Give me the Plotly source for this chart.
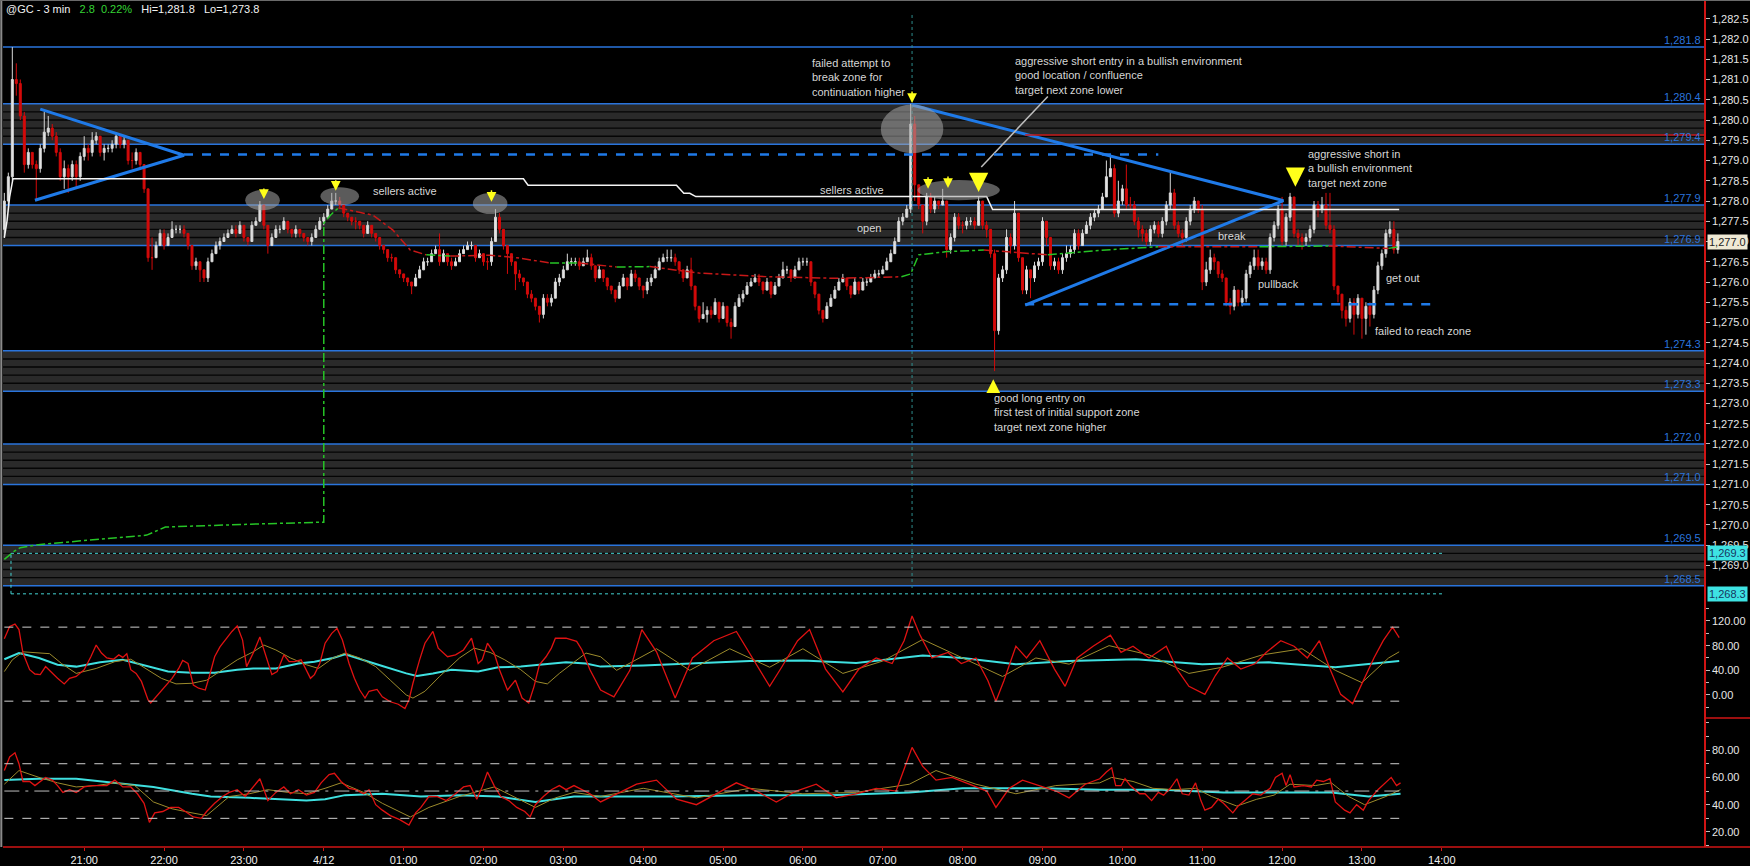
import pandas as pd
import plotly.graph_objects as go

START = pd.Timestamp("2017-04-11 20:00")

# ---- @GC 3 min bars (open = previous close) ----
first_open = 1277.3
close = [
    1278.0, 1278.6, 1281.0, 1280.9, 1280.1, 1278.9, 1279.2, 1278.9, 1278.8, 1279.3,
    1279.7, 1279.8, 1279.6, 1279.2, 1278.6, 1278.8, 1278.6, 1278.9, 1278.6, 1279.1,
    1279.3, 1279.2, 1279.5, 1279.6, 1279.2, 1279.3, 1279.3, 1279.4, 1279.6, 1279.4,
    1279.5, 1279.0, 1279.0, 1279.2, 1278.9, 1278.3, 1276.6, 1276.6, 1276.9, 1277.2,
    1276.9, 1277.1, 1277.3, 1277.3, 1277.3, 1277.2, 1276.9, 1276.4, 1276.5, 1276.3,
    1276.1, 1276.5, 1276.7, 1276.9, 1277.0, 1277.1, 1277.2, 1277.3, 1277.2, 1277.4,
    1277.1, 1277.0, 1277.4, 1277.5, 1277.9, 1277.4, 1276.9, 1277.1, 1277.3, 1277.3,
    1277.5, 1277.3, 1277.2, 1277.3, 1277.2, 1277.1, 1277.0, 1277.1, 1277.3, 1277.5,
    1277.6, 1277.8, 1278.0, 1278.0, 1277.9, 1277.7, 1277.6, 1277.5, 1277.5, 1277.4,
    1277.2, 1277.4, 1277.2, 1277.1, 1276.9, 1276.8, 1276.6, 1276.6, 1276.3, 1276.2,
    1276.1, 1276.0, 1275.9, 1276.1, 1276.3, 1276.5, 1276.5, 1276.7, 1276.8, 1276.5,
    1276.7, 1276.5, 1276.4, 1276.5, 1276.7, 1276.8, 1276.9, 1276.9, 1276.6, 1276.7,
    1276.5, 1276.5, 1277.0, 1277.6, 1277.3, 1276.9, 1276.7, 1276.5, 1276.2, 1276.1,
    1276.0, 1275.7, 1275.6, 1275.4, 1275.2, 1275.6, 1275.5, 1275.6, 1276.0, 1276.1,
    1276.3, 1276.5, 1276.5, 1276.5, 1276.4, 1276.5, 1276.6, 1276.4, 1276.1, 1276.3,
    1276.1, 1275.9, 1275.8, 1275.6, 1275.9, 1276.1, 1275.9, 1276.2, 1276.1, 1275.9,
    1275.8, 1276.0, 1276.1, 1276.3, 1276.5, 1276.6, 1276.6, 1276.6, 1276.5, 1276.3,
    1276.1, 1276.3, 1275.9, 1275.4, 1275.1, 1275.2, 1275.3, 1275.2, 1275.5, 1275.1,
    1275.4, 1275.0, 1274.9, 1275.4, 1275.6, 1275.7, 1275.9, 1276.0, 1276.1, 1276.0,
    1275.8, 1276.0, 1275.7, 1275.9, 1276.1, 1276.3, 1276.3, 1276.1, 1276.3, 1276.5,
    1276.5, 1276.5, 1276.0, 1275.7, 1275.3, 1275.1, 1275.4, 1275.6, 1275.8, 1276.0,
    1276.1, 1275.9, 1275.7, 1276.0, 1275.8, 1276.0, 1276.0, 1276.1, 1276.2, 1276.2,
    1276.3, 1276.5, 1276.7, 1277.0, 1277.5, 1277.6, 1277.8, 1279.9, 1278.4, 1277.9,
    1277.5, 1278.1, 1277.8, 1278.0, 1277.9, 1278.0, 1276.8, 1277.1, 1277.6, 1277.4,
    1277.4, 1277.5, 1277.5, 1277.4, 1278.0, 1277.4, 1277.3, 1276.7, 1274.8, 1276.1,
    1276.3, 1277.1, 1276.9, 1277.7, 1276.6, 1275.8, 1276.3, 1276.1, 1276.4, 1276.5,
    1277.5, 1277.1, 1276.4, 1276.5, 1276.3, 1276.6, 1276.7, 1276.8, 1277.2, 1276.9,
    1277.2, 1277.4, 1277.6, 1277.7, 1277.8, 1278.1, 1278.6, 1278.8, 1277.7, 1278.0,
    1278.3, 1277.9, 1277.9, 1277.5, 1277.3, 1277.2, 1277.0, 1277.3, 1277.4, 1277.2,
    1277.5, 1277.9, 1278.2, 1277.4, 1277.2, 1277.1, 1277.5, 1277.8, 1278.0, 1277.8,
    1276.0, 1276.3, 1276.6, 1276.5, 1276.2, 1276.1, 1275.5, 1275.4, 1275.8, 1275.5,
    1275.6, 1276.2, 1276.4, 1276.6, 1276.4, 1276.5, 1276.3, 1277.1, 1277.4, 1277.8,
    1277.0, 1277.6, 1278.1, 1277.2, 1277.1, 1277.0, 1277.1, 1277.3, 1277.9, 1277.8,
    1277.9, 1277.4, 1277.3, 1275.9, 1275.7, 1275.3, 1275.1, 1275.5, 1275.2, 1275.6,
    1275.1, 1275.4, 1275.2, 1275.8, 1276.4, 1276.7, 1277.2, 1277.3, 1276.8, 1277.0,
]
high = [
    1278.2, 1278.7, 1281.8, 1281.4, 1281.0, 1280.2, 1279.3, 1279.2, 1279.0, 1279.4,
    1280.2, 1280.1, 1279.9, 1279.7, 1279.3, 1279.0, 1278.9, 1279.0, 1279.0, 1279.2,
    1279.6, 1279.4, 1279.7, 1279.7, 1279.6, 1279.4, 1279.4, 1279.5, 1279.7, 1279.6,
    1279.6, 1279.5, 1279.2, 1279.3, 1279.2, 1278.9, 1278.3, 1277.1, 1277.0, 1277.3,
    1277.3, 1277.2, 1277.5, 1277.4, 1277.4, 1277.4, 1277.2, 1276.9, 1276.6, 1276.5,
    1276.3, 1276.6, 1276.8, 1277.0, 1277.1, 1277.2, 1277.3, 1277.4, 1277.4, 1277.5,
    1277.4, 1277.1, 1277.5, 1277.6, 1278.0, 1277.9, 1277.4, 1277.2, 1277.4, 1277.4,
    1277.6, 1277.5, 1277.3, 1277.4, 1277.3, 1277.2, 1277.1, 1277.2, 1277.4, 1277.6,
    1277.7, 1277.9, 1278.2, 1278.2, 1278.1, 1277.9, 1277.7, 1277.6, 1277.6, 1277.5,
    1277.4, 1277.5, 1277.4, 1277.2, 1277.1, 1276.9, 1276.8, 1276.7, 1276.6, 1276.3,
    1276.2, 1276.1, 1276.0, 1276.2, 1276.4, 1276.6, 1276.6, 1276.8, 1276.9, 1277.2,
    1276.8, 1276.7, 1276.6, 1276.6, 1276.8, 1276.9, 1277.0, 1277.0, 1276.9, 1276.8,
    1276.7, 1276.6, 1277.1, 1277.8, 1277.7, 1277.3, 1276.9, 1276.7, 1276.5, 1276.3,
    1276.1, 1276.0, 1275.8, 1275.6, 1275.4, 1275.7, 1275.7, 1275.7, 1276.1, 1276.2,
    1276.4, 1276.7, 1276.6, 1276.6, 1276.6, 1276.6, 1276.8, 1276.7, 1276.4, 1276.4,
    1276.3, 1276.1, 1275.9, 1275.8, 1276.0, 1276.2, 1276.1, 1276.3, 1276.3, 1276.1,
    1275.9, 1276.1, 1276.2, 1276.4, 1276.6, 1276.7, 1276.8, 1276.8, 1276.7, 1276.5,
    1276.3, 1276.4, 1276.6, 1275.9, 1275.4, 1275.5, 1275.4, 1275.4, 1275.6, 1275.5,
    1275.5, 1275.4, 1275.1, 1275.5, 1275.7, 1275.8, 1276.0, 1276.1, 1276.2, 1276.2,
    1276.0, 1276.1, 1276.0, 1276.0, 1276.2, 1276.5, 1276.4, 1276.3, 1276.4, 1276.6,
    1276.6, 1276.6, 1276.5, 1276.0, 1275.7, 1275.3, 1275.5, 1275.7, 1275.9, 1276.1,
    1276.2, 1276.1, 1275.9, 1276.1, 1276.0, 1276.1, 1276.1, 1276.2, 1276.3, 1276.3,
    1276.4, 1276.6, 1276.8, 1277.1, 1277.6, 1277.7, 1277.9, 1280.4, 1280.1, 1278.4,
    1277.9, 1278.2, 1278.2, 1278.1, 1278.0, 1278.3, 1278.0, 1277.2, 1277.7, 1277.7,
    1277.5, 1277.6, 1277.6, 1277.6, 1278.1, 1278.0, 1277.5, 1277.3, 1276.8, 1276.2,
    1276.4, 1277.3, 1277.2, 1278.0, 1277.7, 1276.6, 1276.4, 1276.3, 1276.5, 1276.6,
    1277.6, 1277.5, 1277.1, 1276.6, 1276.6, 1276.7, 1276.9, 1276.9, 1277.3, 1277.3,
    1277.3, 1277.5, 1277.7, 1277.8, 1277.9, 1278.2, 1279.0, 1279.1, 1278.9, 1278.5,
    1278.4, 1278.9, 1278.1, 1278.0, 1277.6, 1277.4, 1277.3, 1277.4, 1277.5, 1277.5,
    1277.6, 1278.0, 1278.7, 1278.3, 1277.5, 1277.3, 1277.6, 1277.9, 1278.1, 1278.0,
    1277.9, 1276.5, 1276.8, 1276.7, 1276.5, 1276.3, 1276.1, 1275.6, 1275.9, 1275.8,
    1275.8, 1276.3, 1276.5, 1276.8, 1276.8, 1276.6, 1276.6, 1277.2, 1277.5, 1277.9,
    1278.1, 1277.7, 1278.2, 1278.1, 1277.3, 1277.2, 1277.2, 1277.4, 1278.0, 1278.0,
    1278.1, 1278.2, 1278.2, 1277.4, 1275.9, 1275.7, 1275.4, 1275.6, 1275.6, 1275.7,
    1275.6, 1275.5, 1275.5, 1275.9, 1276.5, 1276.8, 1277.3, 1277.5, 1277.5, 1277.2,
]
low = [
    1277.1, 1277.9, 1278.5, 1280.6, 1280.0, 1278.7, 1278.8, 1278.8, 1278.0, 1278.7,
    1279.2, 1279.6, 1279.5, 1279.1, 1278.5, 1278.3, 1278.2, 1278.5, 1278.3, 1278.5,
    1279.0, 1279.0, 1279.1, 1279.4, 1279.1, 1279.0, 1279.2, 1279.2, 1279.3, 1279.3,
    1279.3, 1278.9, 1278.8, 1278.9, 1278.8, 1278.2, 1276.5, 1276.3, 1276.6, 1276.9,
    1276.8, 1276.9, 1277.1, 1277.2, 1277.2, 1277.1, 1276.8, 1276.3, 1276.3, 1276.0,
    1276.0, 1276.0, 1276.5, 1276.7, 1276.8, 1277.0, 1277.1, 1277.2, 1277.1, 1277.2,
    1277.0, 1276.9, 1277.0, 1277.4, 1277.5, 1277.3, 1276.7, 1276.9, 1277.1, 1277.2,
    1277.3, 1277.2, 1277.1, 1277.1, 1277.1, 1277.0, 1276.9, 1276.9, 1277.1, 1277.3,
    1277.4, 1277.6, 1277.8, 1277.9, 1277.8, 1277.6, 1277.5, 1277.4, 1277.3, 1277.3,
    1277.1, 1277.2, 1277.1, 1277.0, 1276.8, 1276.7, 1276.5, 1276.5, 1276.2, 1276.1,
    1276.0, 1275.9, 1275.7, 1275.9, 1276.1, 1276.3, 1276.4, 1276.5, 1276.7, 1276.4,
    1276.5, 1276.4, 1276.3, 1276.4, 1276.5, 1276.7, 1276.8, 1276.8, 1276.5, 1276.6,
    1276.4, 1276.3, 1276.4, 1277.0, 1277.2, 1276.8, 1276.2, 1276.4, 1275.8, 1276.0,
    1275.9, 1275.6, 1275.5, 1275.3, 1275.0, 1275.1, 1275.4, 1275.4, 1275.6, 1275.9,
    1276.1, 1276.3, 1276.4, 1276.4, 1276.3, 1276.4, 1276.5, 1276.3, 1276.0, 1276.1,
    1276.0, 1275.8, 1275.7, 1275.5, 1275.6, 1275.9, 1275.8, 1275.9, 1276.0, 1275.8,
    1275.6, 1275.7, 1275.9, 1276.1, 1276.3, 1276.5, 1276.5, 1276.5, 1276.4, 1276.2,
    1276.0, 1276.1, 1275.8, 1275.3, 1275.0, 1275.1, 1275.0, 1275.1, 1275.2, 1275.0,
    1275.1, 1274.9, 1274.6, 1274.9, 1275.4, 1275.5, 1275.7, 1275.9, 1276.0, 1275.9,
    1275.7, 1275.8, 1275.6, 1275.7, 1275.9, 1276.1, 1276.2, 1276.0, 1276.1, 1276.3,
    1276.4, 1276.4, 1275.9, 1275.6, 1275.2, 1275.0, 1275.1, 1275.4, 1275.6, 1275.8,
    1276.0, 1275.8, 1275.6, 1275.7, 1275.7, 1275.8, 1275.9, 1276.0, 1276.1, 1276.1,
    1276.2, 1276.3, 1276.5, 1276.7, 1277.0, 1277.4, 1277.6, 1277.7, 1278.0, 1277.8,
    1277.2, 1277.4, 1277.7, 1277.7, 1277.8, 1277.9, 1276.6, 1276.7, 1277.0, 1277.3,
    1277.2, 1277.3, 1277.4, 1277.3, 1277.4, 1277.3, 1277.1, 1276.6, 1273.8, 1274.7,
    1276.0, 1276.2, 1276.7, 1276.8, 1276.5, 1275.7, 1275.7, 1275.6, 1276.0, 1276.3,
    1276.4, 1276.9, 1276.3, 1276.3, 1276.2, 1276.2, 1276.5, 1276.6, 1276.7, 1276.8,
    1276.9, 1277.2, 1277.3, 1277.5, 1277.6, 1277.8, 1278.1, 1278.6, 1277.6, 1277.6,
    1277.9, 1277.8, 1277.8, 1277.4, 1277.1, 1277.0, 1276.9, 1276.9, 1277.2, 1277.1,
    1277.1, 1277.4, 1277.8, 1277.3, 1277.1, 1276.9, 1277.0, 1277.4, 1277.7, 1277.7,
    1275.8, 1275.9, 1276.2, 1276.3, 1276.1, 1276.0, 1275.4, 1275.2, 1275.3, 1275.4,
    1275.4, 1275.5, 1276.1, 1276.3, 1276.3, 1276.3, 1276.2, 1276.2, 1277.0, 1277.3,
    1276.9, 1276.9, 1277.5, 1277.1, 1276.9, 1276.8, 1276.9, 1277.0, 1277.2, 1277.6,
    1277.7, 1277.3, 1277.2, 1275.8, 1275.5, 1275.1, 1274.9, 1275.0, 1274.7, 1275.1,
    1274.6, 1274.7, 1274.9, 1275.1, 1275.7, 1276.3, 1276.6, 1277.1, 1276.7, 1276.7,
]

# ---- horizontal levels ----
zone_top = [1280.4, 1277.9, 1274.3, 1272.0, 1269.5]
zone_bottom = [1279.4, 1276.9, 1273.3, 1271.0, 1268.5]
single_level = 1281.8
red_level = 1279.63
cyan_levels = [1269.3, 1268.3]

# blue dashed levels: (from minute, to minute, price)
dashed_levels = [(135, 867, 1279.15), (767, 1076, 1275.45)]
# triangles: (start minute, start price) -> apex
triangles = [
    [(27, 1280.27), (135, 1279.13), (23, 1278.02)],
    [(682, 1280.37), (961, 1278.01), (767, 1275.43)],
]

# "sellers active" step line (minutes after 20:00)
sellers_min = [0, 2, 4, 6.5, 390, 393.5, 505, 510.5, 515, 519.5, 738, 742.5, 1048]
sellers_val = [1277.09, 1277.5, 1278.1, 1278.55, 1278.55, 1278.39, 1278.39,
               1278.19, 1278.19, 1278.11, 1278.11, 1277.79, 1277.79]

# vwap-style line, coloured per segment (1 = rising/green)
vwap_min = [0, 7, 12, 27, 107, 121, 185, 237, 240, 240, 245, 251, 277, 292, 305,
            317, 335, 365, 385, 410, 432, 460, 485, 522, 574, 626, 674, 681, 687,
            708, 736, 784, 822, 867, 943, 995, 1040, 1048]
vwap_val = [1269.15, 1269.34, 1269.44, 1269.52, 1269.75, 1269.95, 1270.02, 1270.07,
            1270.07, 1277.45, 1277.65, 1277.83, 1277.65, 1277.28, 1276.79, 1276.67,
            1276.64, 1276.66, 1276.60, 1276.47, 1276.47, 1276.37, 1276.38, 1276.22,
            1276.13, 1276.09, 1276.13, 1276.20, 1276.67, 1276.75, 1276.79, 1276.67,
            1276.78, 1276.87, 1276.87, 1276.89, 1276.83, 1276.87]
vwap_rising = [1, 1, 1, 1, 1, 1, 1, 1, 1, 1, 1, 0, 0, 0, 0, 1, 0, 0, 0, 1, 0, 1, 0,
               0, 0, 0, 1, 1, 1, 1, 0, 1, 1, 0, 1, 0, 1]

# ---- indicator 1 ----
ind1_fast_min = [0, 4, 8, 11, 14, 19, 23, 27, 31, 36, 40, 45, 49, 54, 60, 65, 69, 73, 77,
                 82, 86, 89, 92, 95, 99, 103, 108, 110, 115, 121, 126, 131, 134, 138, 142,
                 146, 151, 154, 158, 162, 167, 171, 175, 179, 182, 187, 192, 197, 201, 205,
                 210, 214, 218, 223, 227, 230, 233, 237, 241, 246, 250, 254, 259, 263, 267,
                 271, 274, 280, 284, 290, 296, 301, 304, 307, 312, 316, 322, 326, 333, 339,
                 345, 351, 356, 359, 363, 368, 372, 378, 384, 389, 394, 398, 402, 407, 411,
                 414, 422, 430, 434, 440, 448,
                 458, 470, 479, 490, 504, 517, 533, 550, 562, 575, 584, 596, 605, 617, 630,
                 642, 655, 667, 676, 682, 688, 697, 709, 719, 730, 739, 745, 751, 760, 768,
                 778, 789, 797, 806, 818, 831, 839, 848, 860, 873, 881, 890, 902, 910, 919,
                 929, 940, 948, 959, 969, 979, 988, 996, 1004, 1013, 1021, 1029, 1036, 1043,
                 1048]
ind1_fast = [91, 111, 115, 106, 68, 41, 34, 33, 46, 35, 27, 18, 27, 30, 41, 62, 81, 68, 60,
             58, 65, 61, 67, 41, 35, 22, -8, -13, 0, 14, 27, 43, 56, 51, 16,
             11, 8, 30, 62, 78, 92, 103, 112, 89, 46, 68, 94, 62, 33, 38,
             65, 54, 54, 57, 41, 27, 33, 51, 84, 100, 108, 89, 51, 27, 8,
             -5, 6, 9, -3, -11, -15, -22, -8, 19, 57, 84, 103, 76, 62, 65,
             73, 92, 51, 57, 84, 68, 41, 8, 24, -5, -13, 14, 49, 62, 76,
             92, 92, 87, 73, 41, 8,
             -3, 40, 106, 70, -5, 60, 88, 103, 60, 14, 45, 88, 106, 42, 5,
             42, 60, 51, 88, 128, 97, 60, 69, 51, 60, 23, -10, 23, 79, 60,
             88, 42, 14, 60, 79, 97, 69, 79, 60, 79, 42, 14, 1, 32, 60,
             42, 51, 69, 88, 79, 60, 88, 42, 1, -14, 23, 60, 88, 110,
             93]
ind1_mid_min = [0, 6, 14, 26, 34, 43, 54, 69, 83, 95, 106, 118, 129, 141, 152, 164, 175,
                187, 195, 204, 215, 227, 236, 247, 256, 267, 279, 290, 302, 307, 316, 327,
                342, 353, 365, 376, 388, 399, 408, 417, 428, 437, 448, 460, 490, 515, 545,
                575, 600, 630, 660, 690, 720, 750, 775, 800, 830, 860, 890, 915, 945, 975,
                1000, 1020, 1040, 1048]
ind1_mid = [38, 57, 70, 68, 67, 51, 35, 43, 54, 58, 43, 27, 18, 19, 24, 41, 57, 70, 81, 73,
            60, 49, 43, 60, 68, 60, 46, 24, 0, -5, 6, 30, 60, 76, 69, 57, 41, 22, 18, 35,
            54, 68, 62, 40, 75, 40, 75, 45, 75, 35, 55, 90, 60, 30, 60, 50, 80, 65, 35,
            45, 65, 75, 40, 20, 60, 70]
ind1_slow_min = [0, 11, 26, 40, 54, 72, 89, 106, 123, 141, 158, 175, 187, 204, 221, 233,
                 247, 256, 270, 284, 302, 310, 322, 336, 356, 371, 388, 405, 422, 437, 448,
                 480, 520, 560, 600, 640, 690, 720, 760, 800, 850, 900, 950, 1000, 1048]
ind1_slow = [58, 68, 60, 49, 46, 53, 57, 47, 38, 36, 36, 41, 43, 43, 51, 54, 60, 66, 57,
             47, 35, 31, 35, 41, 38, 45, 46, 50, 53, 51, 46, 48, 52, 55, 56, 52, 64, 60,
             50, 55, 58, 50, 53, 45, 55]
ind1_bands = [110, -10]

# ---- indicator 2 ----
ind2_fast_min = [0, 4, 8, 11, 14, 19, 23, 27, 31, 36, 40, 44, 49, 54, 60, 66, 72, 77, 83,
                 89, 95, 100, 105, 109, 113, 119, 125, 131, 136, 142, 148, 152, 158, 164,
                 169, 175, 181, 187, 192, 198, 204, 210, 215, 221, 227, 233, 238, 244, 248,
                 253, 259, 264, 270, 274, 279, 284, 290, 297, 304, 309, 313, 319, 325, 332,
                 339, 345, 350, 355, 359, 363, 368, 373, 379, 385, 391, 395, 399, 405, 411,
                 417, 422, 428, 434, 440, 448,
                 460, 475, 490, 505, 520, 535, 550, 565, 580, 595, 610, 625, 640, 655, 670,
                 682, 690, 700, 712, 725, 738, 745, 755, 765, 775, 790, 800, 812,
                 823, 828, 832, 835, 839, 842, 846, 853, 857, 862, 867, 871, 876, 881, 885,
                 890, 895, 899, 902, 907, 912, 916, 923, 927, 932, 938, 944, 951, 955, 960,
                 963, 966, 969, 976, 982, 986, 991, 996, 1000, 1007, 1011, 1016, 1021, 1025,
                 1032, 1038, 1042, 1046, 1049]
ind2_fast = [65, 75, 78, 70, 57, 57, 54, 57, 60, 58, 54, 49, 51, 49, 53, 54, 54, 54, 58,
             53, 53, 48, 41, 27, 34, 35, 38, 38, 35, 31, 30, 35, 41, 46,
             49, 51, 46, 53, 59, 43, 49, 53, 48, 51, 47, 49, 56, 62, 63,
             57, 52, 51, 48, 51, 40, 36, 32, 29, 25, 34, 38, 46, 46, 43,
             48, 53, 54, 44, 53, 64, 54, 46, 43, 38, 35, 31, 40, 46, 51,
             54, 51, 54, 51, 48, 42,
             48, 55, 58, 44, 40, 48, 56, 50, 42, 50, 55, 45, 48, 52, 50,
             82, 68, 58, 60, 55, 50, 38, 52, 58, 55, 50, 45, 55,
             59, 64, 67, 54, 54, 59, 54, 48, 48, 43, 49, 47, 52, 59, 48,
             47, 56, 43, 36, 38, 44, 41, 34, 39, 43, 48, 47, 52, 60, 63,
             54, 62, 53, 54, 53, 58, 57, 59, 42, 36, 34, 40, 36, 43,
             51, 56, 60, 54, 56]
ind2_mid_min = [0, 11, 26, 40, 54, 69, 83, 98, 112, 126, 141, 152, 169, 184, 198, 213, 227,
                241, 253, 270, 284, 305, 319, 342, 368, 385, 399, 414, 428, 448, 480, 520,
                560, 600, 640, 680, 700, 730, 760, 790, 823, 832, 848, 863, 879, 895, 907,
                926, 941, 954, 966, 985, 997, 1010, 1022, 1038, 1049]
ind2_mid = [55, 65, 60, 56, 53, 54, 56, 54, 42, 37, 34, 32, 46, 48, 51, 49, 48, 52, 56, 49,
            41, 31, 38, 46, 53, 45, 38, 45, 49, 46, 52, 45, 52, 48, 49, 55, 65, 55, 48, 54,
            56, 60, 57, 52, 51, 52, 46, 39, 44, 47, 55, 54, 56, 46, 40, 46, 51]
ind2_slow_min = [0, 26, 54, 83, 112, 141, 155, 184, 227, 241, 256, 284, 313, 342, 371, 399,
                 428, 448, 500, 560, 620, 680, 720, 780, 823, 870, 916, 963, 997, 1025, 1049]
ind2_slow = [58, 59, 59, 56, 53, 48, 46, 45, 43, 44, 47, 48, 46, 47, 46, 42, 46, 46, 46,
             47, 47, 49, 52, 52, 51, 51, 49, 49, 49, 46, 48]
ind2_bands = [70, 30]
ind2_mid_level = 50

# time axis labels
tick_min = [60, 120, 180, 240, 300, 360, 420, 480, 540, 600, 660, 720, 780, 840, 900,
            960, 1020, 1080]
tick_text = ["21:00", "22:00", "23:00", "4/12", "01:00", "02:00", "03:00", "04:00",
             "05:00", "06:00", "07:00", "08:00", "09:00", "10:00", "11:00", "12:00",
             "13:00", "14:00"]


def at(minutes):
    return START + pd.to_timedelta(minutes, unit="min")


FONT = "Liberation Sans, Arial, sans-serif"
BLUE = "#2a74dc"
RED = "#d01414"
GREEN = "#26c426"
TXT = "#d6d6d6"

bar_time = at([3 * i for i in range(len(close))])
opens = [first_open] + close[:-1]
high = [max(h, o, c) for h, o, c in zip(high, opens, close)]
low = [min(lo, o, c) for lo, o, c in zip(low, opens, close)]

fig = go.Figure()
shapes = []

# zones
for top, bot in zip(zone_top, zone_bottom):
    shapes.append(dict(type="rect", xref="x domain", yref="y", x0=0, x1=1, y0=bot, y1=top,
                       fillcolor="#2a2a2a", line_width=0, layer="below"))
    for k in range(1, 5):
        lv = bot + (top - bot) * k / 5
        shapes.append(dict(type="line", xref="x domain", yref="y", x0=0, x1=1, y0=lv, y1=lv,
                           line=dict(color="#050505", width=1.4), layer="below"))
for lv in zone_top + zone_bottom + [single_level]:
    shapes.append(dict(type="line", xref="x domain", yref="y", x0=0, x1=1, y0=lv, y1=lv,
                       line=dict(color=BLUE, width=1.5), layer="below"))

shapes.append(dict(type="line", xref="x", yref="y", x0=at(767), x1=at(1280),
                   y0=red_level, y1=red_level, line=dict(color="#c41a1a", width=1.5)))
for lv in cyan_levels:
    shapes.append(dict(type="line", xref="x", yref="y", x0=at(5), x1=at(1081), y0=lv, y1=lv,
                       line=dict(color="#44d4d4", width=1, dash="dot")))
shapes.append(dict(type="line", xref="x", yref="y", x0=at(5), x1=at(5),
                   y0=cyan_levels[1], y1=cyan_levels[0],
                   line=dict(color="#44d4d4", width=1, dash="dot")))

# session marker
shapes.append(dict(type="line", xref="x", yref="y domain", x0=at(682), x1=at(682), y0=0.02,
                   y1=0.975, line=dict(color="#2d8c8c", width=1, dash="dot")))

for m0, m1, lv in dashed_levels:
    shapes.append(dict(type="line", xref="x", yref="y", x0=at(m0), x1=at(m1), y0=lv, y1=lv,
                       line=dict(color="#1f7ae8", width=2.5, dash="dash")))

# indicator reference lines
for lv in ind1_bands:
    shapes.append(dict(type="line", xref="x", yref="y2", x0=at(0), x1=at(1048), y0=lv, y1=lv,
                       line=dict(color="#cfcfcf", width=1, dash="dash")))
for lv in ind2_bands:
    shapes.append(dict(type="line", xref="x", yref="y3", x0=at(0), x1=at(1048), y0=lv, y1=lv,
                       line=dict(color="#cfcfcf", width=1, dash="dash")))
shapes.append(dict(type="line", xref="x", yref="y3", x0=at(0), x1=at(1048),
                   y0=ind2_mid_level, y1=ind2_mid_level,
                   line=dict(color="#bdbdbd", width=1, dash="longdashdot")))

# frame
shapes.append(dict(type="line", xref="paper", yref="paper", x0=-0.001, x1=-0.001, y0=0, y1=1,
                   line=dict(color="#8a8a8a", width=2)))
shapes.append(dict(type="line", xref="paper", yref="paper", x0=-0.002, x1=1.03, y0=1, y1=1,
                   line=dict(color="#6a6a6a", width=2)))
shapes.append(dict(type="line", xref="paper", yref="paper", x0=1, x1=1.03, y0=0.1523,
                   y1=0.1523, line=dict(color=RED, width=1.5)))
shapes.append(dict(type="line", xref="paper", yref="paper", x0=0, x1=1.03, y0=0, y1=0,
                   line=dict(color=RED, width=1.5)))

# candles
fig.add_trace(go.Candlestick(
    x=bar_time, open=opens, high=high, low=low, close=close,
    increasing=dict(line=dict(color="#d8d8d8", width=1), fillcolor="#e4e4e4"),
    decreasing=dict(line=dict(color="#d40a0a", width=1), fillcolor="#d40a0a"),
    whiskerwidth=0, showlegend=False, xaxis="x", yaxis="y", hoverinfo="skip",
))

# triangles
for tri in triangles:
    (m_a, p_a), (m_apex, p_apex), (m_b, p_b) = tri
    fig.add_trace(go.Scatter(
        x=at([m_a, m_apex, m_b]), y=[p_a, p_apex, p_b], mode="lines",
        line=dict(color="#1f7ae8", width=3), showlegend=False, hoverinfo="skip",
    ))

# sellers line
fig.add_trace(go.Scatter(x=at(sellers_min), y=sellers_val, mode="lines",
                         line=dict(color="#f4f4f4", width=1.5), showlegend=False,
                         hoverinfo="skip"))

# vwap segments
k0 = 0
n_seg = len(vwap_rising)
for k in range(1, n_seg + 1):
    if k == n_seg or vwap_rising[k] != vwap_rising[k0]:
        fig.add_trace(go.Scatter(
            x=at(vwap_min[k0:k + 1]), y=vwap_val[k0:k + 1], mode="lines",
            line=dict(color=GREEN if vwap_rising[k0] else "#c81818", width=1.5,
                      dash="dashdot"),
            showlegend=False, hoverinfo="skip",
        ))
        k0 = k

# pointer line for the short entry note
fig.add_trace(go.Scatter(x=at([784, 734]), y=[1280.58, 1278.84], mode="lines",
                         line=dict(color="#bdbdbd", width=1.5), showlegend=False,
                         hoverinfo="skip"))

# indicators
for mins, vals, axis, color, width in [
    (ind1_slow_min, ind1_slow, "y2", "#3fe0e0", 2),
    (ind1_mid_min, ind1_mid, "y2", "#9c8b2c", 1),
    (ind1_fast_min, ind1_fast, "y2", "#e01212", 1.3),
    (ind2_slow_min, ind2_slow, "y3", "#3fe0e0", 2),
    (ind2_mid_min, ind2_mid, "y3", "#9c8b2c", 1),
    (ind2_fast_min, ind2_fast, "y3", "#e01212", 1.3),
]:
    fig.add_trace(go.Scatter(x=at(mins), y=vals, mode="lines", yaxis=axis,
                             line=dict(color=color, width=width), showlegend=False,
                             hoverinfo="skip"))

# highlight ellipses
ellipses = [(194, 1278.02, 13, 0.25), (252, 1278.12, 14.5, 0.22), (365, 1277.94, 13, 0.26),
            (682, 1279.78, 23.5, 0.60), (717, 1278.27, 31, 0.25)]
for cm, cp, hw, hh in ellipses:
    shapes.append(dict(type="circle", xref="x", yref="y", x0=at(cm - hw), x1=at(cm + hw),
                       y0=cp - hh, y1=cp + hh, fillcolor="rgba(165,165,165,0.55)",
                       line_width=0))

annotations = []

# yellow arrows: minute, tip price, length px, width, pointing
arrows = [(195, 1278.05, 12, 1.5, "down"), (249, 1278.25, 12, 1.5, "down"),
          (366, 1277.98, 13, 1.5, "down"), (682, 1280.42, 13, 1.5, "down"),
          (694, 1278.30, 13, 1.5, "down"), (709, 1278.32, 13, 1.5, "down"),
          (732, 1278.22, 20, 3.5, "down"), (970, 1278.35, 19, 3.5, "down"),
          (743, 1273.60, 14, 2.5, "up")]
for m, p, ln, w, d in arrows:
    annotations.append(dict(x=at(m), y=p, xref="x", yref="y", text="", showarrow=True,
                            ax=0, ay=-ln if d == "down" else ln, arrowhead=2,
                            arrowsize=1.1 if w > 2 else 1.3, arrowwidth=w,
                            arrowcolor="#ffff1a", standoff=0))

notes = [
    (605, 1281.04, "failed attempt to<br>break zone for<br>continuation higher", "left"),
    (758, 1281.09, "aggressive short entry in a bullish environment<br>"
                   "good location / confluence<br>target next zone lower", "left"),
    (301, 1278.25, "sellers active", "center"),
    (637, 1278.27, "sellers active", "center"),
    (650, 1277.33, "open", "center"),
    (978, 1278.80, "aggressive short in<br>a bullish environment<br>target next zone", "left"),
    (922, 1277.14, "break", "center"),
    (957, 1275.96, "pullback", "center"),
    (1051, 1276.11, "get out", "center"),
    (1028, 1274.79, "failed to reach zone", "left"),
    (742, 1272.77, "good long entry on<br>first test of initial support zone<br>"
                   "target next zone higher", "left"),
]
for m, p, txt, anchor in notes:
    annotations.append(dict(x=at(m), y=p, xref="x", yref="y", text=txt, showarrow=False,
                            xanchor=anchor, yanchor="middle", align="left",
                            font=dict(family=FONT, size=11, color=TXT)))

# level labels
for lv in [single_level] + zone_top + zone_bottom:
    annotations.append(dict(x=1, y=lv, xref="paper", yref="y", text=f"{lv:,.1f}",
                            showarrow=False, xanchor="right", yanchor="middle",
                            xshift=-1, yshift=7, font=dict(family=FONT, size=11, color=BLUE)))

# axis value tags
annotations.append(dict(x=1, y=close[-1], xref="paper", yref="y", text=f"{close[-1]:,.1f}",
                        showarrow=False, xanchor="left", yanchor="middle", xshift=3,
                        bgcolor="#efe9d4", font=dict(family=FONT, size=11, color="#222222"),
                        borderpad=1))
for lv in cyan_levels:
    annotations.append(dict(x=1, y=lv, xref="paper", yref="y", text=f"{lv:,.1f}",
                            showarrow=False, xanchor="left", yanchor="middle", xshift=3,
                            bgcolor="#3ee3e3", font=dict(family=FONT, size=11, color="#17365e"),
                            borderpad=1))

# header
annotations.append(dict(
    x=0.0005, y=1, xref="paper", yref="paper", xanchor="left", yanchor="top", yshift=-1,
    showarrow=False, font=dict(family=FONT, size=11, color="#f2f2f2"),
    text="@GC - 3 min&nbsp;&nbsp;&nbsp;<span style='color:#34d434'>2.8&nbsp;&nbsp;0.22%</span>"
         "&nbsp;&nbsp;&nbsp;Hi=1,281.8&nbsp;&nbsp;&nbsp;Lo=1,273.8",
))

price_ticks = [1269.0 + 0.5 * k for k in range(28)]

axis_common = dict(showgrid=False, zeroline=False, side="right", anchor="x",
                   showline=True, linecolor=RED, linewidth=1.5, ticks="outside", ticklen=4,
                   tickcolor="#bdbdbd", tickfont=dict(family=FONT, size=11, color="#e6e6e6"))

fig.update_layout(
    width=1750, height=866,
    margin=dict(l=3, r=46, t=0, b=19),
    paper_bgcolor="#000000", plot_bgcolor="#000000",
    showlegend=False, hovermode=False,
    shapes=shapes, annotations=annotations,
    xaxis=dict(domain=[0, 1], anchor="y3", type="date", range=[at(-1), at(1277)],
               tickvals=at(tick_min), ticktext=tick_text, showgrid=False, zeroline=False,
               ticks="outside", ticklen=3, tickcolor=RED,
               tickfont=dict(family=FONT, size=11, color="#f0f0f0"),
               rangeslider=dict(visible=False), showline=False),
    yaxis=dict(domain=[0.29162, 1], range=[1268.148, 1282.963], tickvals=price_ticks,
               tickformat=",.1f", **axis_common),
    yaxis2=dict(domain=[0.1523, 0.29162], range=[-37.3, 154], tickvals=[0, 40, 80, 120],
                tickformat=".2f", minor=dict(dtick=20, tick0=0, ticks="outside", ticklen=3,
                                             tickcolor="#bdbdbd"),
                **axis_common),
    yaxis3=dict(domain=[0, 0.1523], range=[9, 103.5], tickvals=[20, 40, 60, 80],
                tickformat=".2f", minor=dict(dtick=10, tick0=0, ticks="outside", ticklen=3,
                                             tickcolor="#bdbdbd"),
                **axis_common),
)

# page body margin would push the 1750x866 figure off screen
fig.write_html("out.html", config={"displayModeBar": False},
               post_script="document.body.style.margin='0px';"
                           "document.body.style.overflow='hidden';")
